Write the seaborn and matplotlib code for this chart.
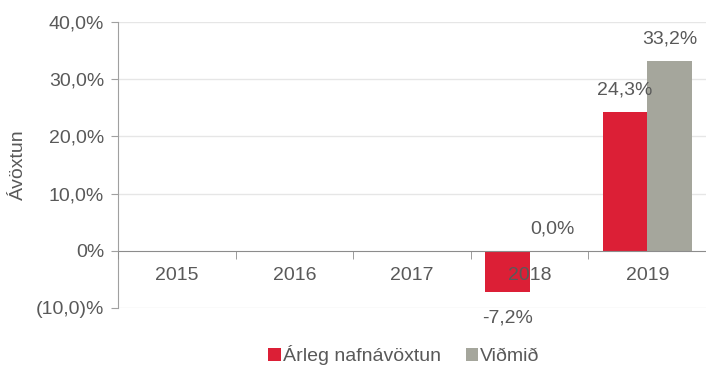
import numpy as np
import pandas as pd
import matplotlib
matplotlib.use("Agg")
import matplotlib.pyplot as plt
from matplotlib.ticker import FuncFormatter, FixedLocator
import seaborn as sns

# Annual returns per year (percent); missing years have no bars
years = ["2015", "2016", "2017", "2018", "2019"]
nominal = [np.nan, np.nan, np.nan, -7.2, 24.3]
benchmark = [np.nan, np.nan, np.nan, 0.0, 33.2]
series_names = ["Árleg nafnávöxtun", "Viðmið"]
colors = ["#DC1F36", "#A5A69C"]
y_ticks = [-10, 0, 10, 20, 30, 40]

df = pd.DataFrame({
    "Ár": years * 2,
    "Ávöxtun": nominal + benchmark,
    "Flokkur": [series_names[0]] * len(years) + [series_names[1]] * len(years),
})

sns.set_style("white")
plt.rcParams["font.family"] = ["Liberation Sans", "DejaVu Sans"]
TXT = "#595959"
FS = 14

fig = plt.figure(figsize=(7.06, 3.68), dpi=100)
ax = fig.add_axes([118 / 706, 1 - 308 / 368, (706 - 118) / 706, (308 - 22) / 368])

sns.barplot(data=df, x="Ár", y="Ávöxtun", hue="Flokkur", order=years,
            hue_order=series_names, palette=colors, width=0.76,
            saturation=1, linewidth=0, ax=ax, legend=True)

ax.set_xlim(-0.5, 4.454)
ax.set_ylim(-10, 40)
ax.set_axisbelow(False)

# Horizontal gridlines
ax.yaxis.set_major_locator(FixedLocator(y_ticks))
for v in y_ticks:
    if v != 0:
        ax.axhline(v, color="#E6E6E6", lw=1, zorder=0)

def pct(v, _):
    if abs(v) < 1e-9:
        return "0%"
    s = f"{abs(v):.1f}".replace(".", ",")
    return f"({s})%" if v < 0 else f"{s}%"

ax.yaxis.set_major_formatter(FuncFormatter(pct))

for s in ["top", "right"]:
    ax.spines[s].set_visible(False)
ax.spines["left"].set_color("#A0A0A0")
ax.spines["bottom"].set_position(("data", 0))
ax.spines["bottom"].set_color("#8C8C8C")

ax.tick_params(axis="y", left=True, length=5, color="#A0A0A0",
               labelsize=FS, labelcolor=TXT, pad=5)
ax.tick_params(axis="x", which="major", length=0, labelsize=FS,
               labelcolor=TXT, pad=12)
ax.set_xticks(np.arange(-0.5, 5.0, 1.0), minor=True)
ax.tick_params(axis="x", which="minor", length=6, color="#8C8C8C", bottom=True)

ax.set_xlabel("")
ax.set_ylabel("Ávöxtun", fontsize=FS, color=TXT, labelpad=6)

# Value labels on bars
for cont in ax.containers:
    for bar in cont:
        h = bar.get_height()
        if np.isnan(h):
            continue
        off = -19 if h < 0 else 16
        ax.annotate(f"{h:.1f}%".replace(".", ","),
                    (bar.get_x() + bar.get_width() / 2, h),
                    xytext=(0, off), textcoords="offset points",
                    ha="center", va="center", fontsize=FS, color=TXT)

handles, labels = ax.get_legend_handles_labels()
ax.legend_.remove()
fig.legend(handles, labels, loc="center", bbox_to_anchor=(0.572, 0.035),
           ncol=2, frameon=False, fontsize=FS, labelcolor=TXT,
           handlelength=0.65, handleheight=0.65, handletextpad=0.1,
           columnspacing=1.3)

fig.savefig("out.png", dpi=100)
